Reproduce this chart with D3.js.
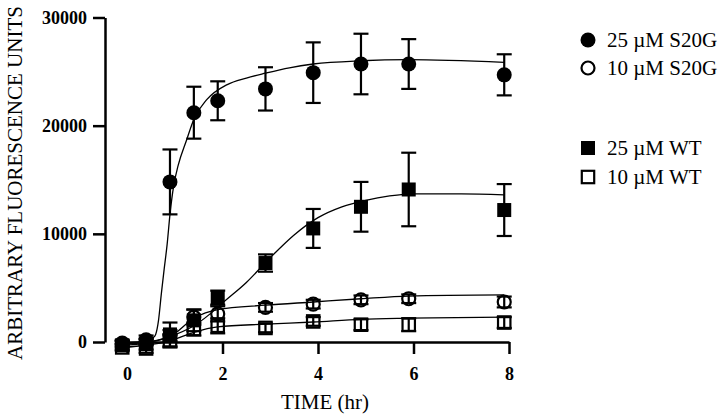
<!DOCTYPE html>
<html><head><meta charset="utf-8">
<script src="https://cdn.jsdelivr.net/npm/d3@7"></script>
<style>
body{margin:0;background:#fff}
svg{display:block}
text{font-family:"Liberation Serif","Times New Roman",serif;fill:#000}
</style>
</head><body>
<svg id="c" width="720" height="418"></svg>
<script>
// ---- data ----
const times = [-0.1, 0.4, 0.9, 1.4, 1.9, 2.9, 3.9, 4.9, 5.9, 7.9];

const s20g25    = [-100, 200, 14800, 21200, 22300, 23400, 24900, 25700, 25700, 24700];
const s20g25Err = [300, 400, 3000, 2400, 1800, 2000, 2800, 2800, 2300, 1900];
const s20g10    = [-200, 0, 600, 2300, 2600, 3200, 3500, 3900, 4000, 3700];
const s20g10Err = [300, 300, 500, 700, 700, 400, 400, 400, 400, 500];
const wt25      = [-300, -200, 700, 2000, 4100, 7300, 10500, 12500, 14100, 12200];
const wt25Err   = [400, 500, 1100, 1000, 650, 800, 1800, 2300, 3400, 2400];
const wt10      = [-500, -600, 100, 1200, 1500, 1300, 1900, 1600, 1600, 1800];
const wt10Err   = [300, 400, 600, 600, 700, 400, 400, 500, 600, 500];

// fitted curves
const fitS20G25T = [-0.1, 0.4, 0.55, 0.6, 0.66, 0.72, 0.78, 0.84, 0.9, 0.98, 1.07, 1.25, 1.4, 1.67, 2.1, 2.5, 2.9, 3.4, 3.9, 4.9, 5.9, 7.9];
const fitS20G25V = [-100, 100, 400, 700, 2000, 4500, 6800, 9000, 11800, 14500, 16300, 18700, 20600, 22400, 23800, 24400, 24850, 25350, 25700, 26000, 26100, 25850];
const fitS20G10T = [-0.1, 0.4, 0.9, 1.4, 1.9, 2.9, 3.9, 4.9, 5.9, 7.9];
const fitS20G10V = [-200, 0, 500, 2200, 3000, 3400, 3700, 4000, 4250, 4350];
const fitWT25T = [-0.1, 0.4, 0.9, 1.4, 1.9, 2.0, 2.5, 3.0, 3.5, 4.0, 4.5, 5.0, 5.5, 6.0, 7.0, 7.9];
const fitWT25V = [-300, -100, 500, 1500, 3200, 3600, 5500, 7800, 9900, 11500, 12500, 13100, 13500, 13700, 13700, 13600];
const fitWT10T = [-0.1, 0.4, 0.9, 1.4, 1.9, 2.9, 3.9, 4.9, 5.9, 7.9];
const fitWT10V = [-500, -300, 100, 900, 1400, 1650, 1850, 2100, 2200, 2300];

const xTicks = [0, 2, 4, 6, 8];
const yTicks = [0, 10000, 20000, 30000];
const seriesNames = ["25 \u00B5M S20G", "10 \u00B5M S20G", "25 \u00B5M WT", "10 \u00B5M WT"];
const xTitle = "TIME (hr)";
const yTitle = "ARBITRARY FLUORESCENCE UNITS";

// ---- build ----
const series = [
  {name: seriesNames[0], v: s20g25, e: s20g25Err, ft: fitS20G25T, fv: fitS20G25V, shape: "circle", filled: true},
  {name: seriesNames[1], v: s20g10, e: s20g10Err, ft: fitS20G10T, fv: fitS20G10V, shape: "circle", filled: false},
  {name: seriesNames[2], v: wt25,   e: wt25Err,   ft: fitWT25T,   fv: fitWT25V,   shape: "square", filled: true},
  {name: seriesNames[3], v: wt10,   e: wt10Err,   ft: fitWT10T,   fv: fitWT10V,   shape: "square", filled: false}
];

const svg = d3.select("#c");
const x = d3.scaleLinear().domain([0, 8]).range([127, 509]);
const y = d3.scaleLinear().domain([0, 30000]).range([342, 17.5]);

// axes
const gy = svg.append("g").attr("transform", "translate(105,0)")
  .call(d3.axisLeft(y).tickValues(yTicks).tickSize(12).tickSizeOuter(0).tickPadding(6).tickFormat(d3.format("d")));
const gx = svg.append("g").attr("transform", "translate(0,342)")
  .call(d3.axisBottom(x).tickValues(xTicks).tickSize(12).tickSizeOuter(0).tickPadding(13).tickFormat(d3.format("d")));
[gy, gx].forEach(g => {
  g.select(".domain").attr("stroke", "#000").attr("stroke-width", 2.5);
  g.selectAll(".tick line").attr("stroke", "#000").attr("stroke-width", 2.5);
  g.selectAll(".tick text").attr("font-family", "Liberation Serif, Times New Roman, serif")
    .attr("font-size", 18).attr("font-weight", "bold").attr("fill", "#000");
});

svg.append("text").attr("x", 325).attr("y", 409).attr("text-anchor", "middle")
  .attr("font-size", 21).text(xTitle);
svg.append("text").attr("transform", "translate(22,183) rotate(-90)").attr("text-anchor", "middle")
  .attr("font-size", 21).text(yTitle);

// curves
const line = d3.line().x(d => x(d[0])).y(d => y(d[1])).curve(d3.curveMonotoneX);
series.forEach(s => {
  svg.append("path").datum(s.ft.map((t, i) => [t, s.fv[i]]))
    .attr("d", line).attr("fill", "none").attr("stroke", "#000").attr("stroke-width", 1.3);
});

// error bars
const cap = 7.5;
series.forEach(s => {
  const g = svg.append("g").attr("stroke", "#000").attr("stroke-width", 2.2);
  times.forEach((t, i) => {
    const cx = x(t), hi = y(s.v[i] + s.e[i]), lo = y(s.v[i] - s.e[i]);
    g.append("line").attr("x1", cx).attr("x2", cx).attr("y1", hi).attr("y2", lo);
    g.append("line").attr("x1", cx - cap).attr("x2", cx + cap).attr("y1", hi).attr("y2", hi);
    g.append("line").attr("x1", cx - cap).attr("x2", cx + cap).attr("y1", lo).attr("y2", lo);
  });
});

// markers
function marker(g, s, cx, cy) {
  if (s.shape === "circle") {
    if (s.filled) g.append("circle").attr("cx", cx).attr("cy", cy).attr("r", 7.5).attr("fill", "#000");
    else g.append("circle").attr("cx", cx).attr("cy", cy).attr("r", 6.5).attr("fill", "none").attr("stroke", "#000").attr("stroke-width", 2.2);
  } else {
    if (s.filled) g.append("rect").attr("x", cx - 7).attr("y", cy - 7).attr("width", 14).attr("height", 14).attr("fill", "#000");
    else g.append("rect").attr("x", cx - 6.2).attr("y", cy - 6.2).attr("width", 12.4).attr("height", 12.4).attr("fill", "none").attr("stroke", "#000").attr("stroke-width", 2.2);
  }
}
series.forEach(s => {
  const g = svg.append("g");
  times.forEach((t, i) => marker(g, s, x(t), y(s.v[i])));
});

// legend
const legendY = [40, 68, 148, 177];
series.forEach((s, i) => {
  const g = svg.append("g");
  marker(g, s, 588, legendY[i]);
  g.append("text").attr("x", 607).attr("y", legendY[i] + 7).attr("font-size", 21).text(s.name);
});
</script>
</body></html>
